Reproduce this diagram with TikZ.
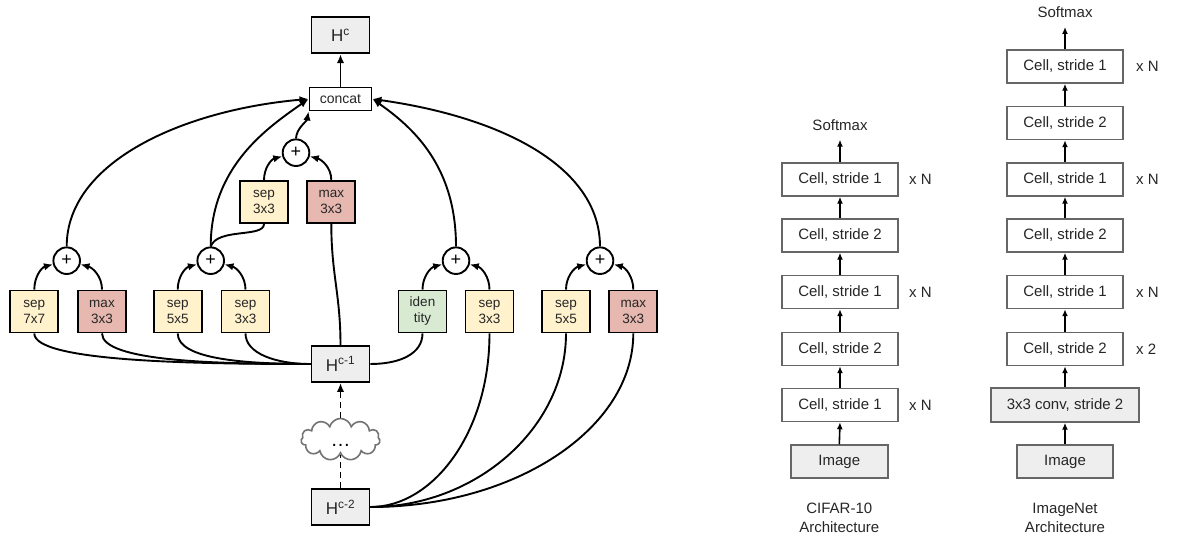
\documentclass[tikz,border=0pt]{standalone}
\usepackage{fontspec}
\setmainfont{Liberation Sans}
\usetikzlibrary{arrows.meta,shapes.symbols,shapes.geometric}
\definecolor{sepc}{HTML}{FFF2CC}
\definecolor{maxc}{HTML}{E6B8AF}
\definecolor{idc}{HTML}{D9EAD3}
\definecolor{hgray}{HTML}{EEEEEE}
\definecolor{bdr}{HTML}{666666}
\begin{document}
\begin{tikzpicture}[x=1pt,y=1pt,
  op/.style={draw=black, line width=1.9pt, minimum width=48pt, minimum height=42pt, inner sep=0pt, align=center, font=\fontsize{13.5}{16}\selectfont, text=black!85},
  sepbox/.style={op, fill=sepc},
  maxbox/.style={op, fill=maxc},
  idbox/.style={op, fill=idc},
  hbox/.style={draw=black, line width=1.9pt, fill=hgray, minimum width=58pt, minimum height=36pt, inner sep=0pt, font=\fontsize{17}{20}\selectfont, text=black!85},
  catbox/.style={draw=black, line width=1.9pt, fill=white, minimum width=62pt, minimum height=23pt, inner sep=0pt, font=\fontsize{14}{16}\selectfont, text=black!85},
  addc/.style={circle, draw=black, line width=1.9pt, fill=white, minimum size=26.6pt, inner sep=0pt, font=\fontsize{18}{18}\selectfont},
  conn/.style={line width=1.9pt},
  arr/.style={conn, -{Latex[length=9pt,width=7.5pt]}},
  cell/.style={draw=bdr, line width=1.5pt, fill=white, minimum width=116pt, minimum height=33pt, inner sep=0pt, font=\fontsize{15}{18}\selectfont, text=black!85},
  cellg/.style={cell, fill=hgray},
  rarr/.style={line width=1.6pt, -{Latex[length=7pt,width=6pt]}},
  lbl/.style={font=\fontsize{15}{19}\selectfont, inner sep=0pt, align=center, text=black!85},
  smx/.style={lbl, inner ysep=9pt}
]
\useasboundingbox (0,0) rectangle (1178,551);

% ---------------- cell diagram ----------------
\node[hbox] (hc) at (340.5,515.7) {H\textsuperscript{c}};
\node[catbox] (concat) at (340.5,452) {concat};
\node[addc] (p3) at (296,398.3) {+};
\node[sepbox] (sepU) at (264,349) {sep\\3x3};
\node[maxbox] (maxU) at (331.3,349) {max\\3x3};
\node[addc] (p1) at (66.7,290.3) {+};
\node[addc] (p2) at (210.7,290.3) {+};
\node[addc] (p4) at (456,290.3) {+};
\node[addc] (p5) at (600,290.3) {+};
\node[sepbox] (s77) at (34.3,239.5) {sep\\7x7};
\node[maxbox] (m33a) at (102,239.5) {max\\3x3};
\node[sepbox] (s55a) at (177.7,239.5) {sep\\5x5};
\node[sepbox] (s33a) at (245.5,239.5) {sep\\3x3};
\node[idbox] (iden) at (422.5,239.5) {iden\\tity};
\node[sepbox] (s33b) at (489.5,239.5) {sep\\3x3};
\node[sepbox] (s55b) at (566,239.5) {sep\\5x5};
\node[maxbox] (m33b) at (633.3,239.5) {max\\3x3};
\node[hbox] (h1) at (340.5,187) {H\textsuperscript{c-1}};
\node[cloud, cloud puffs=11, aspect=1.9, draw=black!55, line width=1.6pt, fill=white, minimum width=79pt, minimum height=42pt, inner sep=0pt, text height=14pt, font=\fontsize{20}{20}\selectfont] (cl) at (340.5,111.5) {\dots};
\node[hbox] (h2) at (340.5,44) {H\textsuperscript{c-2}};

% inputs from H^{c-1}
\draw[conn] (h1.west) to[out=180,in=-90,out distance=120pt,in distance=28pt] (s77.south);
\draw[conn] (h1.west) to[out=180,in=-90,out distance=95pt,in distance=28pt] (m33a.south);
\draw[conn] (h1.west) to[out=180,in=-90,out distance=65pt,in distance=26pt] (s55a.south);
\draw[conn] (h1.west) to[out=180,in=-90,out distance=35pt,in distance=20pt] (s33a.south);
\draw[conn] (h1.east) to[out=0,in=-90,out distance=30pt,in distance=20pt] (iden.south);
\draw[conn] (h1.north) to[out=90,in=-90,out distance=50pt,in distance=50pt] (maxU.south);
% inputs from H^{c-2}
\draw[conn] (h2.east) to[out=0,in=-90,out distance=62pt,in distance=100pt] (s33b.south);
\draw[conn] (h2.east) to[out=0,in=-90,out distance=105pt,in distance=95pt] (s55b.south);
\draw[conn] (h2.east) to[out=0,in=-90,out distance=145pt,in distance=95pt] (m33b.south);
% into adders
\draw[arr] (s77.north) to[out=90,in=195] (p1);
\draw[arr] (m33a.north) to[out=90,in=-15] (p1);
\draw[arr] (s55a.north) to[out=90,in=195] (p2);
\draw[arr] (s33a.north) to[out=90,in=-15] (p2);
\draw[arr] (iden.north) to[out=90,in=195] (p4);
\draw[arr] (s33b.north) to[out=90,in=-15] (p4);
\draw[arr] (s55b.north) to[out=90,in=195] (p5);
\draw[arr] (m33b.north) to[out=90,in=-15] (p5);
\draw[arr] (sepU.north) to[out=90,in=195] (p3);
\draw[arr] (maxU.north) to[out=90,in=-15] (p3);
\draw[conn] (p2.north) to[out=70,in=-90,out distance=20pt,in distance=14pt] (sepU.south);
% into concat
\draw[arr] (p1.north) to[out=90,in=185,out distance=85pt,in distance=125pt] (concat.west);
\draw[arr] (p2.north) to[out=90,in=215,out distance=80pt,in distance=50pt] (concat.west);
\draw[arr] (p3.north) to[out=88,in=-100,out distance=10pt,in distance=10pt] (concat.south west);
\draw[arr] (p4.north) to[out=90,in=-35,out distance=80pt,in distance=50pt] (concat.east);
\draw[arr] (p5.north) to[out=90,in=-8,out distance=80pt,in distance=130pt] (concat.east);
\draw[arr] (concat.north) -- (hc.south);
% dashed link
\draw[arr, dash pattern=on 6pt off 4pt] (cl.north) -- (h1.south);
\draw[conn, dash pattern=on 6pt off 4pt] (h2.north) -- (cl.south);

% ---------------- CIFAR-10 ----------------
\node[cellg, minimum width=97pt] (ci) at (839.3,89.3) {Image};
\node[cell] (c1) at (840,146) {Cell, stride 1};
\node[cell] (c2) at (840,202) {Cell, stride 2};
\node[cell] (c3) at (840,259) {Cell, stride 1};
\node[cell] (c4) at (840,315.5) {Cell, stride 2};
\node[cell] (c5) at (840,371.5) {Cell, stride 1};
\node[smx] (cs) at (840,426) {Softmax};
\draw[rarr] (ci.north) -- (c1.south);
\draw[rarr] (c1.north) -- (c2.south);
\draw[rarr] (c2.north) -- (c3.south);
\draw[rarr] (c3.north) -- (c4.south);
\draw[rarr] (c4.north) -- (c5.south);
\draw[rarr] (c5.north) -- (cs.south);
\node[lbl, anchor=west] (cn1) at (909,146) {x N};
\node[lbl, anchor=west] (cn2) at (909,259) {x N};
\node[lbl, anchor=west] (cn3) at (909,371.5) {x N};
\node[lbl] (clab) at (839.3,33.5) {CIFAR-10\\Architecture};

% ---------------- ImageNet ----------------
\node[cellg, minimum width=96pt] (ii) at (1065,89.3) {Image};
\node[cellg, minimum width=148pt, minimum height=34pt] (iconv) at (1065,146) {3x3 conv, stride 2};
\node[cell] (i1) at (1065,202) {Cell, stride 2};
\node[cell] (i2) at (1065,259) {Cell, stride 1};
\node[cell] (i3) at (1065,315.5) {Cell, stride 2};
\node[cell] (i4) at (1065,371.5) {Cell, stride 1};
\node[cell] (i5) at (1065,428) {Cell, stride 2};
\node[cell] (i6) at (1065,484.5) {Cell, stride 1};
\node[smx] (is) at (1065,538.7) {Softmax};
\draw[rarr] (ii.north) -- (iconv.south);
\draw[rarr] (iconv.north) -- (i1.south);
\draw[rarr] (i1.north) -- (i2.south);
\draw[rarr] (i2.north) -- (i3.south);
\draw[rarr] (i3.north) -- (i4.south);
\draw[rarr] (i4.north) -- (i5.south);
\draw[rarr] (i5.north) -- (i6.south);
\draw[rarr] (i6.north) -- (is.south);
\node[lbl, anchor=west] (in0) at (1136,202) {x 2};
\node[lbl, anchor=west] (in1) at (1136,259) {x N};
\node[lbl, anchor=west] (in2) at (1136,371.5) {x N};
\node[lbl, anchor=west] (in3) at (1136,484.5) {x N};
\node[lbl] (ilab) at (1065,33.5) {ImageNet\\Architecture};
\end{tikzpicture}
\end{document}
